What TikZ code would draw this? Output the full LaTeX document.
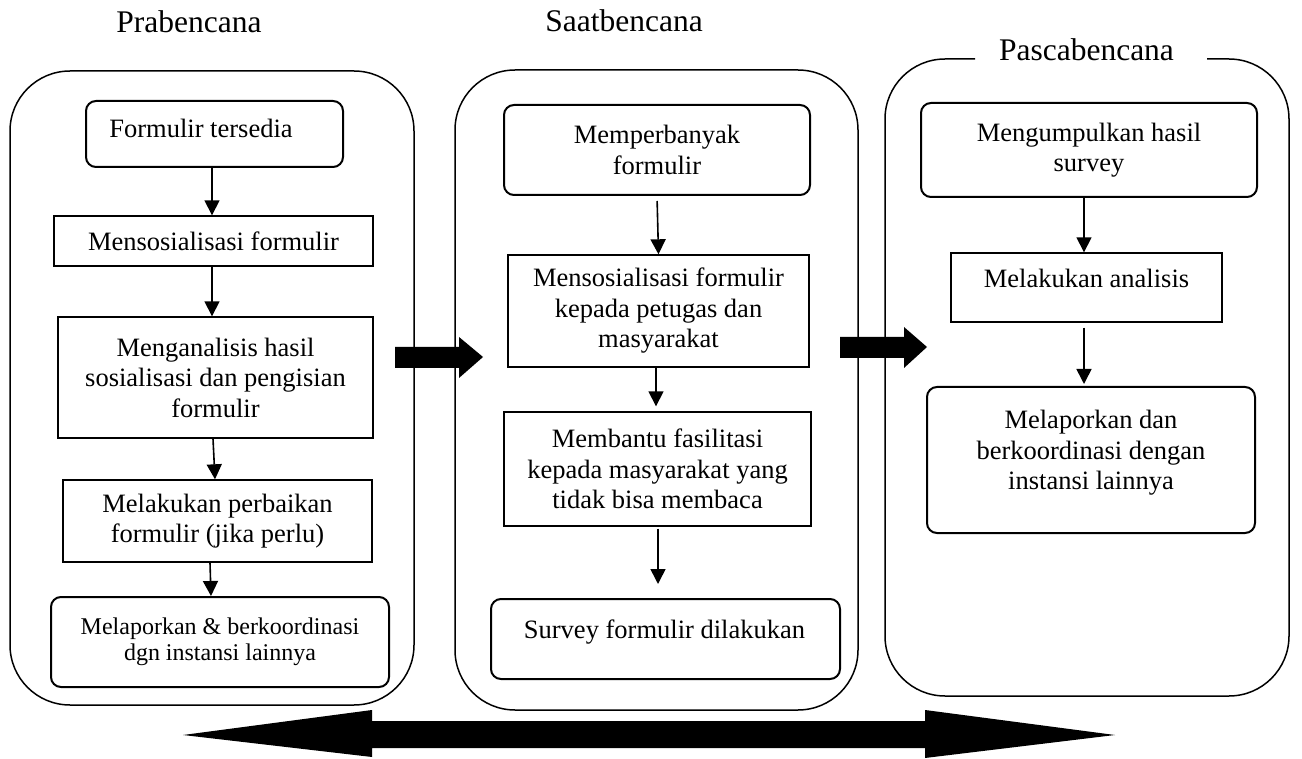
\documentclass[tikz,border=0pt]{standalone}
\usepackage{fontspec}
\setmainfont{Liberation Serif}
\usetikzlibrary{arrows.meta}
\newcommand\bxfont{\fontsize{26.5}{30.5}\selectfont}
\newcommand\smbxfont{\fontsize{24}{26}\selectfont}
\newcommand\ttlfont{\fontsize{31.5}{36}\selectfont}
\begin{document}
\begin{tikzpicture}[x=1pt,y=-1pt,
  phase/.style={draw,line width=1.5pt,rounded corners=60pt,inner sep=0pt},
  rbox/.style={draw,line width=2pt,rounded corners=10pt,inner sep=0pt,align=center,font=\bxfont},
  sbox/.style={draw,line width=1.4pt,inner sep=0pt,align=center,font=\bxfont},
  ttl/.style={font=\ttlfont,inner sep=0pt,anchor=base},
  lbl/.style={font=\bxfont,inner sep=0pt,align=center},
  flow/.style={line width=1.6pt,-{Triangle[length=15pt,width=15pt]}},
  blk/.style={fill=black}]
\useasboundingbox (0,0) rectangle (1302,759);

% phase titles
\node[ttl] (t1) at (189,33) {Prabencana};
\node[ttl] (t2) at (624,32) {Saatbencana};
\node[ttl] (t3) at (1086.5,61) {Pascabencana};

% phase frames
\node[phase,minimum width=404pt,minimum height=634pt] (p1) at (212,388) {};
\node[phase,minimum width=403pt,minimum height=640pt] (p2) at (656.5,390) {};
\draw[line width=1.5pt,rounded corners=60pt]
  (975,59) -- (885,59) -- (885,696) -- (1289,696) -- (1289,59) -- (1207,59);

% Prabencana steps
\node[rbox,minimum width=257pt,minimum height=66pt] (a1) at (214.5,134) {};
\node[lbl,anchor=base] (a1t) at (201,138) {Formulir tersedia};
\node[sbox,minimum width=319pt,minimum height=50pt] (a2) at (213.5,241) {Mensosialisasi formulir};
\node[sbox,minimum width=315pt,minimum height=121pt] (a3) at (215.5,377.5)
  {Menganalisis hasil\\sosialisasi dan pengisian\\formulir};
\node[sbox,minimum width=309pt,minimum height=82pt] (a4) at (217.5,521)
  {Melakukan perbaikan\\formulir (jika perlu)};
\node[rbox,minimum width=338pt,minimum height=90pt,font=\smbxfont] (a5) at (220,642)
  {Melaporkan \& berkoordinasi\\dgn instansi lainnya};

\draw[flow] ([xshift=-2.5pt]a1.south) -- ([xshift=-1.5pt]a2.north);
\draw[flow] ([xshift=-1.5pt]a2.south) -- ([xshift=-3.5pt]a3.north);
\draw[flow] ([xshift=-2.5pt]a3.south) -- ([xshift=-2.5pt]a4.north);
\draw[flow] ([xshift=-7.5pt]a4.south) -- ([xshift=-9pt]a5.north);

% Saatbencana steps
\node[rbox,minimum width=306pt,minimum height=90pt] (b1) at (657,150)
  {Memperbanyak\\formulir};
\node[sbox,minimum width=301pt,minimum height=112pt] (b2) at (658.5,311)
  {Mensosialisasi formulir\\kepada petugas dan\\masyarakat};
\node[sbox,minimum width=307pt,minimum height=114pt] (b3) at (657.5,469)
  {Membantu fasilitasi\\kepada masyarakat yang\\tidak bisa membaca};
\node[rbox,minimum width=349pt,minimum height=80pt] (b4) at (665.5,639) {};
\node[lbl,anchor=base] (b4t) at (664.5,638) {Survey formulir dilakukan};

\draw[flow,shorten <=5pt] (b1.south) -- (b2.north);
\draw[flow,shorten >=5pt] ([xshift=-2.5pt]b2.south) -- ([xshift=-1.5pt]b3.north);
\draw[flow,shorten <=2pt,shorten >=14pt] ([xshift=0.5pt]b3.south) -- ([xshift=-7.5pt]b4.north);

% Pascabencana steps
\node[rbox,minimum width=336pt,minimum height=94pt] (c1) at (1089,150)
  {Mengumpulkan hasil\\survey};
\node[sbox,minimum width=271pt,minimum height=69pt] (c2) at (1086.5,287.5) {};
\node[lbl,anchor=base] (c2t) at (1086.5,288) {Melakukan analisis};
\node[rbox,minimum width=328pt,minimum height=146pt] (c3) at (1091,460) {};
\node[lbl] (c3t) at (1091,453)
  {Melaporkan dan\\berkoordinasi dengan\\instansi lainnya};

\draw[flow] ([xshift=-5pt]c1.south) -- ([xshift=-2.5pt]c2.north);
\draw[flow,shorten <=5pt,shorten >=2pt] ([xshift=-2.5pt]c2.south) -- ([xshift=-7pt]c3.north);

% block arrows between phases
\fill[blk] (395,347) -- (459,347) -- (459,337) -- (483,357) -- (459,378)
  -- (459,368) -- (395,368) -- cycle;
\fill[blk] (840,337) -- (904,337) -- (904,327) -- (927,347) -- (904,368)
  -- (904,358) -- (840,358) -- cycle;

% double-headed timeline arrow
\fill[blk] (183,735) -- (372,710) -- (372,721) -- (925,721) -- (925,710)
  -- (1115,735) -- (925,758) -- (925,748) -- (372,748) -- (372,757) -- cycle;
\end{tikzpicture}
\end{document}
